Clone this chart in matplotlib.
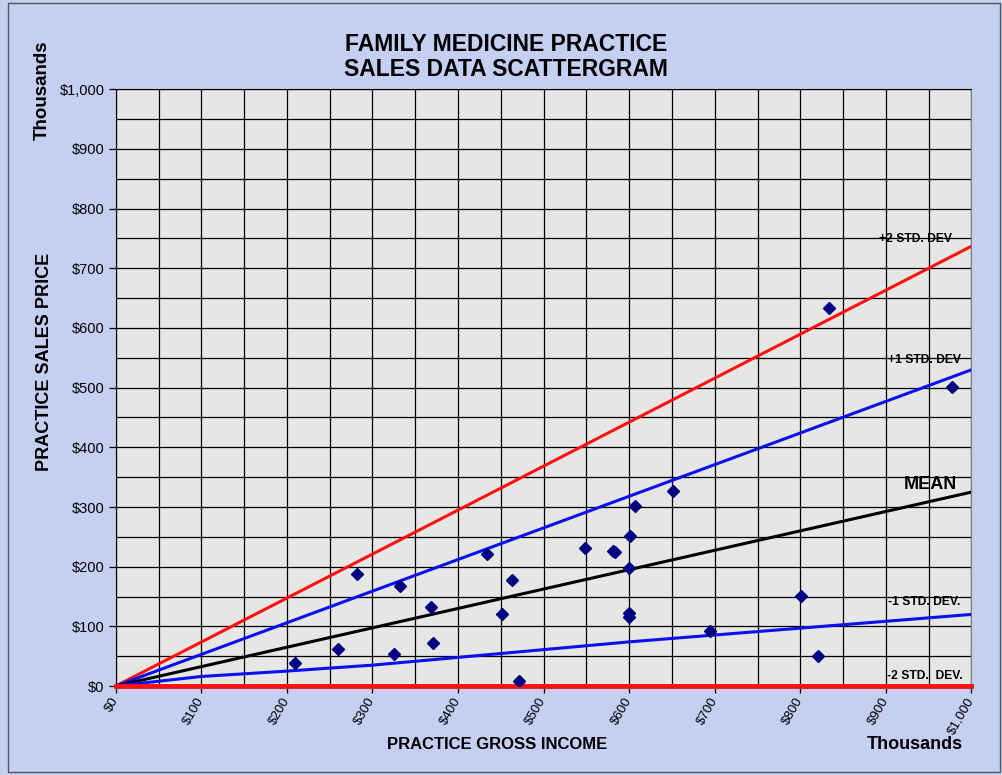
import matplotlib.pyplot as plt
from matplotlib.ticker import MultipleLocator, FuncFormatter

plt.rcParams['font.family'] = ['Liberation Sans', 'DejaVu Sans']

# practice sales, thousands of dollars
gross_income = [210, 260, 282, 325, 332, 369, 371, 434, 451, 463, 471,
                548, 581, 584, 601, 607, 600, 600, 600, 651, 695, 801, 821, 833, 977]
sales_price = [39, 62, 188, 53, 167, 132, 72, 221, 121, 178, 8,
               232, 227, 225, 251, 302, 197, 123, 116, 326, 93, 151, 51, 633, 501]

# reference lines
line_x = [0, 1000]
plus2_y = [0, 737]
plus1_y = [0, 530]
mean_y = [0, 325]
minus1_x = [0, 100, 200, 300, 600, 1000]
minus1_y = [0, 16, 25, 35, 74, 120]
minus2_y = [0, 0]

line_labels = ['+2 STD. DEV', '+1 STD. DEV', 'MEAN', '-1 STD. DEV.', '-2 STD.  DEV.']
label_x = [935, 945, 952, 945, 946]
label_y = [749, 546, 337, 141, 17]

fig = plt.figure(figsize=(10.02, 7.75), dpi=100)
fig.patch.set_facecolor('#c4cff2')
ax = fig.add_axes([0.1155, 0.1148, 0.854, 0.770])
ax.set_facecolor('#e6e6e4')

ax.plot(line_x, plus2_y, color='#ff1010', lw=2.2, zorder=3)
ax.plot(line_x, plus1_y, color='#0a10f0', lw=2.2, zorder=3)
ax.plot(line_x, mean_y, color='black', lw=2.2, zorder=3)
ax.plot(minus1_x, minus1_y, color='#0a10f0', lw=2.2, zorder=3)
ax.plot(line_x, minus2_y, color='#ff1010', lw=3.5, zorder=3, clip_on=False)

ax.plot(gross_income, sales_price, 'D', color='#000080', markersize=5.8,
        linestyle='none', zorder=4)

for t, lx, ly in zip(line_labels, label_x, label_y):
    if t == 'MEAN':
        ax.text(lx, ly, t, fontsize=13, fontweight='bold', ha='center', va='center', zorder=5)
    else:
        ax.text(lx, ly, t, fontsize=8.7, fontweight='bold', ha='center', va='center', zorder=5)

ax.set_xlim(0, 1000)
ax.set_ylim(0, 1000)
ax.xaxis.set_major_locator(MultipleLocator(100))
ax.yaxis.set_major_locator(MultipleLocator(100))
ax.xaxis.set_minor_locator(MultipleLocator(50))
ax.yaxis.set_minor_locator(MultipleLocator(50))
ax.grid(which='both', color='black', lw=0.9, zorder=1)
ax.set_axisbelow(True)

fmt = FuncFormatter(lambda v, p: '${:,.0f}'.format(v))
ax.xaxis.set_major_formatter(fmt)
ax.yaxis.set_major_formatter(fmt)
ax.tick_params(axis='both', which='major', length=5, width=0.9, labelsize=10.5, colors='black')
ax.tick_params(axis='x', labelsize=9.5, pad=4)
ax.tick_params(axis='both', which='minor', length=0)
ax.tick_params(axis='y', pad=3)
for lab in ax.get_xticklabels():
    lab.set_rotation(60)
    lab.set_ha('right')
    lab.set_va('center')
    lab.set_rotation_mode('anchor')

for s in ['top', 'left', 'bottom']:
    ax.spines[s].set_color('black')
ax.spines['right'].set_color('#808080')

fig.text(0.505, 0.926, 'FAMILY MEDICINE PRACTICE\nSALES DATA SCATTERGRAM', ha='center', va='center',
         fontsize=16.5, fontweight='bold', linespacing=1.1)
fig.text(0.044, 0.533, 'PRACTICE SALES PRICE', rotation=90, ha='center', va='center',
         fontsize=13, fontweight='bold')
fig.text(0.042, 0.884, 'Thousands', rotation=90, ha='center', va='center',
         fontsize=13.5, fontweight='bold')
fig.text(0.496, 0.039, 'PRACTICE GROSS INCOME', ha='center', va='center',
         fontsize=12, fontweight='bold')
fig.text(0.913, 0.039, 'Thousands', ha='center', va='center',
         fontsize=13, fontweight='bold')

# thin frame around the chart
fig.add_artist(plt.Rectangle((0.008, 0.004), 0.99, 0.992, transform=fig.transFigure,
                             fill=False, edgecolor='#555555', lw=1))

fig.savefig('out.png', dpi=100, facecolor=fig.get_facecolor())
